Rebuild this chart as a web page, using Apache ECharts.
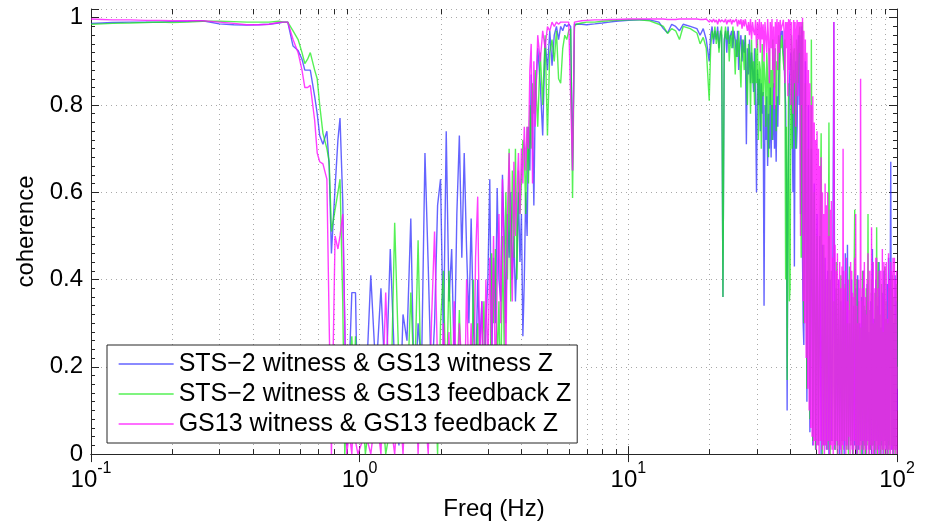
<!DOCTYPE html>
<html>
<head>
<meta charset="utf-8">
<script src="https://cdn.jsdelivr.net/npm/echarts@6/dist/echarts.min.js"></script>
<style>
  html, body { margin: 0; padding: 0; background: #fff; }
  #chart { width: 934px; height: 526px; }
</style>
</head>
<body>
<div id="chart"></div>
<script>
// Coherence between seismometer channels, frequency in Hz on a log axis.
// Data are split into frequency bands; every band has a frequency list and
// one value list per channel pair.

// 0.1 - 0.5 Hz
const fA = [0.1,0.11,0.12,0.14,0.16,0.18,0.2,0.23,0.26,0.3,0.34,0.38,0.42,0.46,0.5];
const bA = [0.987,0.988,0.989,0.99,0.99,0.99,0.991,0.992,0.993,0.986,0.984,0.983,0.984,0.985,0.988];
const gA = [0.985,0.986,0.987,0.988,0.989,0.99,0.989,0.99,0.992,0.992,0.991,0.99,0.99,0.99,0.992];
const mA = [0.997,0.996,0.995,0.995,0.994,0.994,0.993,0.993,0.993,0.99,0.987,0.984,0.984,0.985,0.989];

// 0.5 - 1 Hz roll-off
const fB = [0.52,0.54,0.565,0.59,0.61,0.625,0.64,0.655,0.68,0.695,0.71,0.73,0.755,0.77,0.785,0.81,0.83,0.845,0.865,0.88,0.895,0.915,0.935,0.95,0.965,0.985];
const bB = [0.99,0.99,0.935,0.925,0.905,0.88,0.88,0.88,0.82,0.78,0.73,0.71,0.74,0.66,0.46,0.61,0.72,0.77,0.58,0.30,0.02,0.20,0.37,0.37,0.37,0.05];
const gB = [0.99,0.99,0.97,0.95,0.92,0.895,0.905,0.92,0.88,0.86,0.80,0.735,0.70,0.67,0.51,0.56,0.60,0.63,0.35,0.00,0.10,0.20,0.27,0.15,0.27,0.10];
const mB = [0.99,0.99,0.95,0.92,0.88,0.84,0.84,0.845,0.765,0.69,0.67,0.665,0.63,0.30,0.00,0.50,0.47,0.50,0.55,0.30,0.00,0.05,0.00,0.10,0.03,0.00];

// 1 - 4.45 Hz
const fC = [1.00,1.05,1.10,1.15,1.20,1.25,1.30,1.35,1.40,1.45,
            1.50,1.55,1.60,1.65,1.70,1.75,1.80,1.85,1.90,1.95,
            2.00,2.05,2.10,2.15,2.20,2.25,2.30,2.35,2.40,2.45,
            2.50,2.55,2.60,2.65,2.70,2.75,2.80,2.85,2.90,2.95,
            3.00,3.05,3.10,3.15,3.20,3.25,3.30,3.35,3.40,3.45,
            3.50,3.55,3.60,3.65,3.70,3.75,3.80,3.85,3.90,3.95,
            4.00,4.05,4.10,4.15,4.20,4.25,4.30,4.35,4.40,4.45];
const bC = [0.05,0.12,0.41,0.18,0.38,0.14,0.47,0.20,0.02,0.32,
            0.26,0.54,0.10,0.30,0.20,0.69,0.43,0.15,0.30,0.57,
            0.63,0.25,0.74,0.35,0.47,0.20,0.55,0.73,0.45,0.69,
            0.47,0.30,0.54,0.30,0.15,0.40,0.25,0.35,0.10,0.30,
            0.40,0.63,0.20,0.45,0.30,0.61,0.40,0.35,0.64,0.50,
            0.30,0.55,0.45,0.60,0.40,0.50,0.35,0.45,0.60,0.44,
            0.55,0.27,0.40,0.60,0.50,0.75,0.65,0.87,0.75,0.57];
const gC = [0.22,0.00,0.10,0.04,0.15,0.00,0.06,0.53,0.20,0.05,
            0.12,0.37,0.15,0.49,0.10,0.05,0.25,0.10,0.20,0.00,
            0.30,0.42,0.10,0.42,0.20,0.05,0.15,0.33,0.12,0.25,
            0.05,0.20,0.10,0.40,0.15,0.30,0.05,0.20,0.35,0.15,
            0.25,0.05,0.46,0.30,0.47,0.20,0.35,0.10,0.50,0.25,
            0.60,0.40,0.70,0.35,0.65,0.45,0.70,0.40,0.65,0.55,
            0.62,0.72,0.70,0.55,0.75,0.62,0.80,0.70,0.85,0.78];
const mC = [0.00,0.05,0.00,0.10,0.00,0.37,0.08,0.00,0.15,0.00,
            0.20,0.05,0.25,0.00,0.22,0.10,0.00,0.30,0.51,0.20,
            0.05,0.30,0.15,0.28,0.05,0.35,0.10,0.30,0.20,0.05,
            0.40,0.15,0.30,0.05,0.45,0.59,0.20,0.35,0.10,0.40,
            0.20,0.45,0.25,0.50,0.15,0.40,0.55,0.30,0.63,0.45,
            0.20,0.55,0.69,0.50,0.35,0.67,0.50,0.60,0.69,0.55,
            0.70,0.62,0.75,0.65,0.75,0.70,0.88,0.94,0.62,0.90];

// 4.5 - 6.4 Hz
const fD = [4.5,4.6,4.7,4.8,4.9,5.0,5.1,5.2,5.3,5.4,5.5,5.6,5.7,5.8,5.9,6.0,6.1,6.2,6.3,6.4];
const bD = [0.80,0.93,0.85,0.73,0.95,0.88,0.97,0.89,0.96,0.98,0.95,0.98,0.97,0.985,0.98,0.985,0.98,0.65,0.985,0.985];
const gD = [0.88,0.75,0.92,0.80,0.96,0.73,0.92,0.95,0.90,0.97,0.86,0.85,0.93,0.96,0.95,0.97,0.975,0.587,0.98,0.985];
const mD = [0.75,0.96,0.90,0.97,0.93,0.98,0.97,0.99,0.98,0.99,0.985,0.99,0.99,0.99,0.99,0.99,0.99,0.65,0.99,0.993];

// 6.7 - 19.5 Hz
const fE = [6.7,7,7.5,8,8.5,9,10,11,12,13,13.5,14,14.5,15,15.5,16,17,18,18.5,19,19.5];
const bE = [0.985,0.984,0.986,0.988,0.99,0.992,0.994,0.995,0.995,0.99,0.975,0.965,0.985,0.98,0.97,0.985,0.98,0.975,0.96,0.975,0.95];
const gE = [0.988,0.99,0.99,0.992,0.993,0.994,0.995,0.995,0.993,0.985,0.98,0.964,0.975,0.97,0.95,0.98,0.975,0.965,0.94,0.955,0.93];
const mE = [0.993,0.994,0.995,0.995,0.996,0.996,0.997,0.997,0.997,0.997,0.997,0.996,0.996,0.996,0.997,0.997,0.997,0.997,0.996,0.996,0.997];

// 20 - 44.75 Hz
const fF = [20,20.25,20.5,20.75,21,21.25,21.5,21.75,22,22.25,
            22.5,22.75,23,23.25,23.5,23.75,24,24.25,24.5,24.75,
            25,25.25,25.5,25.75,26,26.25,26.5,26.75,27,27.25,
            27.5,27.75,28,28.25,28.5,28.75,29,29.25,29.5,29.75,
            30,30.25,30.5,30.75,31,31.25,31.5,31.75,32,32.25,
            32.5,32.75,33,33.25,33.5,33.75,34,34.25,34.5,34.75,
            35,35.25,35.5,35.75,36,36.25,36.5,36.75,37,37.25,
            37.5,37.75,38,38.25,38.5,38.75,39,39.25,39.5,39.75,
            40,40.25,40.5,40.75,41,41.25,41.5,41.75,42,42.25,
            42.5,42.75,43,43.25,43.5,43.75,44,44.25,44.5,44.75];
const bF = [0.90,0.96,0.98,0.94,0.97,0.95,0.98,0.93,0.97,0.96,
            0.36,0.95,0.97,0.92,0.98,0.94,0.96,0.97,0.93,0.97,
            0.95,0.91,0.97,0.88,0.94,0.96,0.90,0.95,0.92,0.96,
            0.71,0.93,0.87,0.95,0.85,0.92,0.88,0.83,0.93,0.80,
            0.60,0.88,0.80,0.86,0.74,0.85,0.78,0.83,0.34,0.80,
            0.72,0.82,0.66,0.78,0.70,0.84,0.68,0.80,0.72,0.85,
            0.70,0.80,0.67,0.82,0.75,0.86,0.90,0.95,0.97,0.96,
            0.97,0.92,0.90,0.85,0.80,0.62,0.10,0.55,0.70,0.85,
            0.85,0.92,0.90,0.75,0.60,0.88,0.43,0.80,0.90,0.70,
            0.75,0.92,0.96,0.80,0.96,0.55,0.90,0.98,0.45,0.30];
const gF = [0.81,0.93,0.97,0.95,0.98,0.94,0.97,0.92,0.96,0.98,
            0.36,0.94,0.98,0.95,0.97,0.90,0.96,0.93,0.98,0.94,
            0.87,0.95,0.91,0.97,0.90,0.84,0.95,0.93,0.88,0.96,
            0.86,0.80,0.94,0.92,0.78,0.95,0.85,0.90,0.80,0.93,
            0.85,0.95,0.72,0.90,0.88,0.70,0.94,0.82,0.90,0.86,
            0.75,0.92,0.86,0.68,0.93,0.80,0.88,0.72,0.95,0.84,
            0.84,0.93,0.74,0.90,0.88,0.96,0.80,0.95,0.93,0.96,
            0.96,0.90,0.88,0.95,0.40,0.75,0.17,0.60,0.85,0.35,
            0.38,0.80,0.96,0.70,0.85,0.92,0.93,0.75,0.70,0.95,
            0.95,0.85,0.88,0.96,0.98,0.90,0.45,0.97,0.99,0.60];
const mF = [0.99,0.995,0.99,0.997,0.99,0.995,0.985,0.997,0.99,0.995,
            0.995,0.99,0.997,0.985,0.995,0.99,0.997,0.985,0.995,0.99,
            0.99,0.997,0.98,0.995,0.985,0.997,0.975,0.995,0.98,0.997,
            0.995,0.97,0.99,0.96,0.997,0.95,0.99,0.97,0.96,0.995,
            0.93,0.99,0.95,0.997,0.92,0.99,0.95,0.985,0.90,0.99,
            0.99,0.92,0.997,0.95,0.85,0.99,0.93,0.997,0.88,0.98,
            0.79,0.99,0.94,0.997,0.88,0.99,0.92,0.995,0.97,0.98,
            0.985,0.995,0.97,0.85,0.99,0.93,0.99,0.82,0.997,0.88,
            0.995,0.80,0.99,0.90,0.78,0.995,0.85,0.99,0.75,0.97,
            0.995,0.82,0.99,0.92,0.99,0.50,0.99,0.80,1.0,0.35];

// 45 - 100 Hz (witness/feedback pairs against the STS-2)
const fG = [45,45.6,46.2,46.8,47.4,48,48.6,49.2,49.8,50.4,
            51,51.6,52.2,52.8,53.4,54,54.6,55.2,55.8,56.4,
            57,57.6,58.2,58.8,59.4,60,60.6,61.2,61.8,62.4,
            63,63.6,64.2,64.8,65.4,66,66.6,67.2,67.8,68.4,
            69,69.6,70.2,70.8,71.4,72,72.6,73.2,73.8,74.4,
            75,75.6,76.2,76.8,77.4,78,78.6,79.2,79.8,80.4,
            81,81.6,82.2,82.8,83.4,84,84.6,85.2,85.8,86.4,
            87,87.6,88.2,88.8,89.4,90,90.6,91.2,91.8,92.4,
            93,93.6,94.2,94.8,95.4,96,96.6,97.2,97.8,98.4,
            99,99.6,100];
const bG = [0.25,0.90,0.12,0.80,0.05,0.70,0.02,0.62,0.01,0.55,
            0.03,0.50,0.00,0.48,0.02,0.45,0.01,0.42,0.00,0.40,
            0.03,0.30,0.99,0.01,0.38,0.02,0.40,0.00,0.35,0.03,
            0.42,0.00,0.46,0.02,0.48,0.01,0.30,0.03,0.40,0.00,
            0.34,0.02,0.38,0.00,0.41,0.01,0.30,0.03,0.36,0.00,
            0.42,0.02,0.33,0.00,0.39,0.03,0.28,0.01,0.35,0.00,
            0.47,0.02,0.31,0.00,0.40,0.03,0.34,0.01,0.44,0.00,
            0.29,0.02,0.37,0.00,0.42,0.03,0.31,0.01,0.39,0.00,
            0.45,0.02,0.33,0.67,0.01,0.38,0.00,0.30,0.02,0.41,
            0.01,0.35,0.10];
const gG = [0.30,0.85,0.15,0.70,0.08,0.95,0.03,0.60,0.01,0.50,
            0.02,0.45,0.735,0.00,0.48,0.02,0.40,0.01,0.76,0.00,
            0.42,0.03,0.35,0.01,0.44,0.00,0.38,0.02,0.41,0.00,
            0.33,0.03,0.39,0.01,0.30,0.00,0.43,0.02,0.36,0.00,
            0.31,0.56,0.01,0.40,0.00,0.35,0.02,0.29,0.00,0.42,
            0.01,0.34,0.00,0.38,0.02,0.55,0.00,0.33,0.01,0.40,
            0.02,0.30,0.00,0.37,0.01,0.52,0.00,0.44,0.02,0.32,
            0.00,0.39,0.01,0.28,0.00,0.43,0.02,0.35,0.00,0.30,
            0.01,0.38,0.00,0.33,0.02,0.41,0.00,0.36,0.01,0.31,
            0.00,0.39,0.15];

// 45 - 100 Hz for the GS13 pair, finer frequency spacing
const fGm = [45,45.3,45.6,45.9,46.2,46.5,46.8,47.1,47.4,47.7,
             48,48.3,48.6,48.9,49.2,49.5,49.8,50.1,50.4,50.7,
             51,51.3,51.6,51.9,52.2,52.5,52.8,53.1,53.4,53.7,
             54,54.3,54.6,54.9,55.2,55.5,55.8,56.1,56.4,56.7,
             57,57.3,57.6,57.9,58.2,58.5,58.8,59.1,59.4,59.7,
             60,60.3,60.6,60.9,61.2,61.5,61.8,62.1,62.4,62.7,
             63,63.3,63.6,63.9,64.2,64.5,64.8,65.1,65.4,65.7,
             66,66.3,66.6,66.9,67.2,67.5,67.8,68.1,68.4,68.7,
             69,69.3,69.6,69.9,70.2,70.5,70.8,71.1,71.4,71.7,
             72,72.3,72.6,72.9,73.2,73.5,73.8,74.1,74.4,74.7,
             75,75.3,75.6,75.9,76.2,76.5,76.8,77.1,77.4,77.7,
             78,78.3,78.6,78.9,79.2,79.5,79.8,80.1,80.4,80.7,
             81,81.3,81.6,81.9,82.2,82.5,82.8,83.1,83.4,83.7,
             84,84.3,84.6,84.9,85.2,85.5,85.8,86.1,86.4,86.7,
             87,87.3,87.6,87.9,88.2,88.5,88.8,89.1,89.4,89.7,
             90,90.3,90.6,90.9,91.2,91.5,91.8,92.1,92.4,92.7,
             93,93.3,93.6,93.9,94.2,94.5,94.8,95.1,95.4,95.7,
             96,96.3,96.6,96.9,97.2,97.5,97.8,98.1,98.4,98.7,
             99,99.3,99.6,99.9,100];
const mG = [0.97,0.30,0.95,0.22,0.92,0.15,0.88,0.10,0.85,0.06,
            0.80,0.04,0.82,0.02,0.76,0.03,0.72,0.01,0.74,0.02,
            0.70,0.00,0.66,0.03,0.68,0.01,0.60,0.02,0.55,0.00,
            0.62,0.02,0.57,0.01,0.60,0.03,0.50,0.00,0.56,0.02,
            0.58,0.01,0.45,0.00,0.99,0.02,0.48,0.01,0.42,0.03,
            0.46,0.00,0.40,0.02,0.44,0.01,0.38,0.00,0.43,0.02,
            0.70,0.01,0.38,0.03,0.42,0.00,0.45,0.02,0.35,0.01,
            0.40,0.04,0.33,0.00,0.44,0.02,0.42,0.01,0.37,0.00,
            0.36,0.03,0.45,0.01,0.55,0.02,0.34,0.00,0.30,0.02,
            0.40,0.01,0.38,0.00,0.86,0.02,0.35,0.01,0.38,0.03,
            0.42,0.00,0.44,0.02,0.36,0.01,0.32,0.00,0.40,0.03,
            0.46,0.01,0.35,0.00,0.42,0.02,0.37,0.01,0.52,0.00,
            0.40,0.02,0.44,0.00,0.30,0.03,0.38,0.01,0.45,0.00,
            0.45,0.02,0.36,0.01,0.38,0.00,0.42,0.02,0.33,0.01,
            0.42,0.00,0.33,0.03,0.47,0.01,0.39,0.00,0.44,0.02,
            0.36,0.01,0.43,0.00,0.44,0.02,0.31,0.01,0.30,0.00,
            0.46,0.03,0.40,0.01,0.37,0.00,0.44,0.02,0.42,0.01,
            0.35,0.00,0.45,0.02,0.38,0.01,0.45,0.00,0.34,0.02,
            0.40,0.01,0.42,0.00,0.20];

// Tick values
const xMinorTicks = [0.2,0.3,0.4,0.5,0.6,0.7,0.8,0.9,
                     2,3,4,5,6,7,8,9,
                     20,30,40,50,60,70,80,90];
const yTicks = [0, 0.2, 0.4, 0.6, 0.8, 1];

const seriesNames = [
  'STS\u22122 witness & GS13 witness Z',
  'STS\u22122 witness & GS13 feedback Z',
  'GS13 witness & GS13 feedback Z'
];

const freqSTS = [].concat(fA, fB, fC, fD, fE, fF, fG);
const freqGS = [].concat(fA, fB, fC, fD, fE, fF, fGm);
const blue = [].concat(bA, bB, bC, bD, bE, bF, bG);
const green = [].concat(gA, gB, gC, gD, gE, gF, gG);
const magenta = [].concat(mA, mB, mC, mD, mE, mF, mG);

const toPairs = (fs, vals) => fs.map((f, i) => [f, vals[i]]);

const FONT = '"Liberation Sans", Arial, Helvetica, sans-serif';
const AXIS = '#262626';
const GRIDC = '#a8a8a8';
const C_BLUE = 'rgba(40,40,255,0.72)';
const C_GREEN = 'rgba(20,235,20,0.72)';
const C_MAG = 'rgba(255,20,255,0.82)';

const chart = echarts.init(document.getElementById('chart'), null, { renderer: 'canvas' });

function decadeLabel(v) {
  const e = Math.round(Math.log10(v));
  return '{b|10}{s|' + e + '}';
}

function minorGrid(params, api) {
  const cs = params.coordSys;
  let x = api.coord([api.value(0), 0.5])[0];
  x = Math.round(x) + 0.5;
  const yt = cs.y, yb = cs.y + cs.height;
  return {
    type: 'group',
    children: [
      { type: 'line', shape: { x1: x, y1: yt, x2: x, y2: yb },
        style: { stroke: GRIDC, lineWidth: 1, lineDash: [1, 4] } },
      { type: 'line', shape: { x1: x, y1: yb, x2: x, y2: yb - 5 },
        style: { stroke: AXIS, lineWidth: 1 } },
      { type: 'line', shape: { x1: x, y1: yt, x2: x, y2: yt + 5 },
        style: { stroke: AXIS, lineWidth: 1 } }
    ]
  };
}

const lineBase = {
  type: 'line',
  showSymbol: false,
  symbol: 'none',
  animation: false,
  silent: true,
  xAxisIndex: 0,
  yAxisIndex: 0
};

chart.setOption({
  animation: false,
  backgroundColor: '#fff',
  textStyle: { fontFamily: FONT },
  grid: { left: 91, right: 37, top: 9, bottom: 71 },
  legend: {
    data: seriesNames,
    orient: 'vertical',
    left: 107,
    top: 345,
    z: 20,
    backgroundColor: '#fff',
    borderColor: AXIS,
    borderWidth: 1,
    borderRadius: 0,
    padding: [4, 6, 4, 11],
    itemWidth: 55,
    itemHeight: 30,
    itemGap: 0,
    selectedMode: false,
    itemStyle: { opacity: 0 },
    lineStyle: { width: 1.3 },
    textStyle: { fontFamily: FONT, fontSize: 25, color: '#000', lineHeight: 30 }
  },
  xAxis: [
    {
      type: 'log', logBase: 10, min: 0.1, max: 100,
      name: 'Freq (Hz)', nameLocation: 'middle', nameGap: 40,
      nameTextStyle: { fontFamily: FONT, fontSize: 24, color: '#000' },
      axisLine: { show: true, lineStyle: { color: AXIS, width: 1 } },
      axisTick: { show: true, inside: true, length: 8, lineStyle: { color: AXIS } },
      axisLabel: {
        margin: 6,
        formatter: decadeLabel,
        rich: {
          b: { fontFamily: FONT, fontSize: 24, color: '#000', padding: [8, 0, 0, 0] },
          s: { fontFamily: FONT, fontSize: 16, color: '#000', verticalAlign: 'top' }
        }
      },
      splitLine: { show: true, lineStyle: { color: GRIDC, type: [1, 4], width: 1 } }
    },
    {
      type: 'log', logBase: 10, min: 0.1, max: 100, position: 'top',
      axisLine: { show: true, lineStyle: { color: AXIS, width: 1 } },
      axisTick: { show: true, inside: true, length: 8, lineStyle: { color: AXIS } },
      axisLabel: { show: false },
      splitLine: { show: false }
    }
  ],
  yAxis: [
    {
      type: 'value', min: 0, max: 1.02, interval: 0.2,
      name: 'coherence', nameLocation: 'middle', nameGap: 42,
      nameTextStyle: { fontFamily: FONT, fontSize: 24, color: '#000' },
      axisLine: { show: true, lineStyle: { color: AXIS, width: 1 } },
      axisTick: { show: true, inside: true, length: 8, lineStyle: { color: AXIS } },
      minorTick: { show: true, splitNumber: 10, length: 4, lineStyle: { color: AXIS } },
      axisLabel: {
        margin: 8, fontFamily: FONT, fontSize: 24, color: '#000',
        formatter: v => {
          const t = yTicks.find(k => Math.abs(k - v) < 1e-6);
          return t === undefined ? '' : String(t);
        }
      },
      splitLine: { show: true, lineStyle: { color: GRIDC, type: [1, 4], width: 1 } }
    },
    {
      type: 'value', min: 0, max: 1.02, interval: 0.2, position: 'right',
      axisLine: { show: true, lineStyle: { color: AXIS, width: 1 } },
      axisTick: { show: true, inside: true, length: 8, lineStyle: { color: AXIS } },
      minorTick: { show: true, splitNumber: 10, length: 4, lineStyle: { color: AXIS } },
      axisLabel: { show: false },
      splitLine: { show: false }
    }
  ],
  series: [
    {
      type: 'custom',
      name: 'minor-grid',
      xAxisIndex: 0, yAxisIndex: 0,
      silent: true,
      z: 1,
      renderItem: minorGrid,
      data: xMinorTicks.map(v => [v, 0.5])
    },
    Object.assign({}, lineBase, {
      name: seriesNames[0], z: 2, color: C_BLUE,
      lineStyle: { color: C_BLUE, width: 1.4 },
      data: toPairs(freqSTS, blue)
    }),
    Object.assign({}, lineBase, {
      name: seriesNames[1], z: 3, color: C_GREEN,
      lineStyle: { color: C_GREEN, width: 1.4 },
      data: toPairs(freqSTS, green)
    }),
    Object.assign({}, lineBase, {
      name: seriesNames[2], z: 4, color: C_MAG,
      lineStyle: { color: C_MAG, width: 1.4 },
      data: toPairs(freqGS, magenta)
    })
  ]
});
</script>
</body>
</html>
